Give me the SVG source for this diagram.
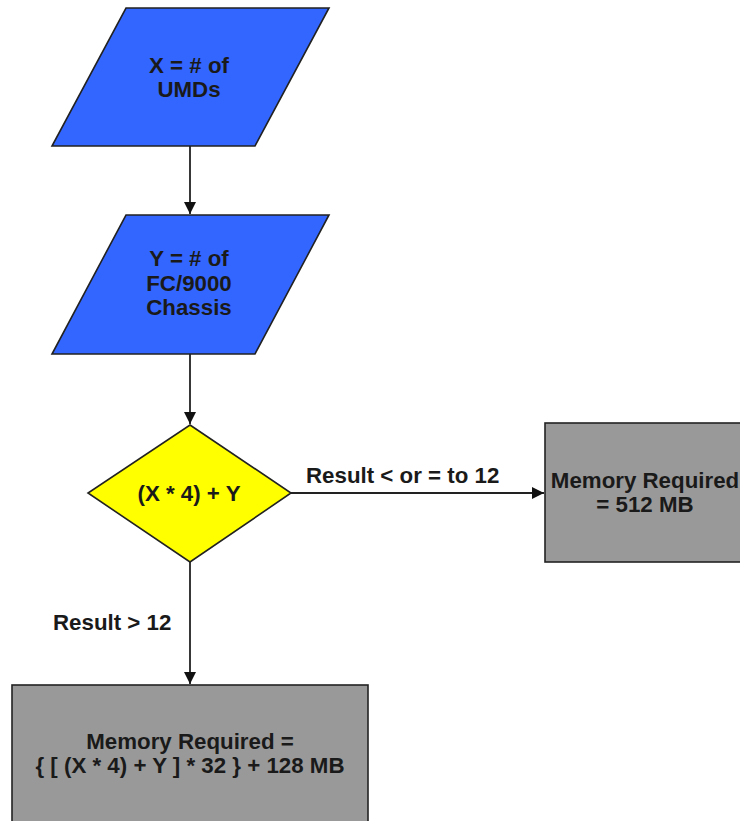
<svg xmlns="http://www.w3.org/2000/svg" width="740" height="821" viewBox="0 0 740 821">
<style>
.sh{stroke:#222;stroke-width:1.6}
.in{fill:#3366FF}
.dec{fill:#FFFF00}
.proc{fill:#999999}
text{font-family:"Liberation Sans",Arial,sans-serif;font-weight:bold;font-size:22.3px;fill:#1a1a1a}
.c{text-anchor:middle}
.ln{stroke:#222;stroke-width:1.8;fill:none}
</style>
<defs>
<marker id="ah" markerWidth="14" markerHeight="14" refX="12" refY="6" orient="auto" markerUnits="userSpaceOnUse">
<path d="M0,0 L12,6 L0,12 Z" fill="#111"/>
</marker>
</defs>
<rect width="740" height="821" fill="#fff"/>
<g id="connectors">
<line class="ln" x1="190" y1="146" x2="190" y2="214" marker-end="url(#ah)"/>
<line class="ln" x1="190" y1="354" x2="190" y2="424" marker-end="url(#ah)"/>
<line class="ln" x1="291" y1="493" x2="544" y2="493" marker-end="url(#ah)"/>
<line class="ln" x1="190" y1="562" x2="190" y2="684" marker-end="url(#ah)"/>
<text x="306" y="483">Result &lt; or = to 12</text>
<text x="53" y="630">Result &gt; 12</text>
</g>
<g id="inputX">
<polygon class="sh in" points="126,8 329,8 255,146 52,146"/>
<text class="c" x="189" y="73">X = # of</text>
<text class="c" x="189" y="97">UMDs</text>
</g>
<g id="inputY">
<polygon class="sh in" points="126,215 329,215 255,354 52,354"/>
<text class="c" x="189" y="266">Y = # of</text>
<text class="c" x="189" y="291">FC/9000</text>
<text class="c" x="189" y="315">Chassis</text>
</g>
<g id="decision">
<polygon class="sh dec" points="190,425 291,493 190,562 88,493"/>
<text class="c" x="189" y="501">(X * 4) + Y</text>
</g>
<g id="mem512">
<rect class="sh proc" x="545" y="423" width="205" height="139"/>
<text class="c" x="645" y="488">Memory Required</text>
<text class="c" x="645" y="512">= 512 MB</text>
</g>
<g id="memCalc">
<rect class="sh proc" x="12" y="685" width="356" height="150"/>
<text class="c" x="190" y="749">Memory Required =</text>
<text class="c" x="190" y="773">{ [ (X * 4) + Y ] * 32 } + 128 MB</text>
</g>
</svg>
